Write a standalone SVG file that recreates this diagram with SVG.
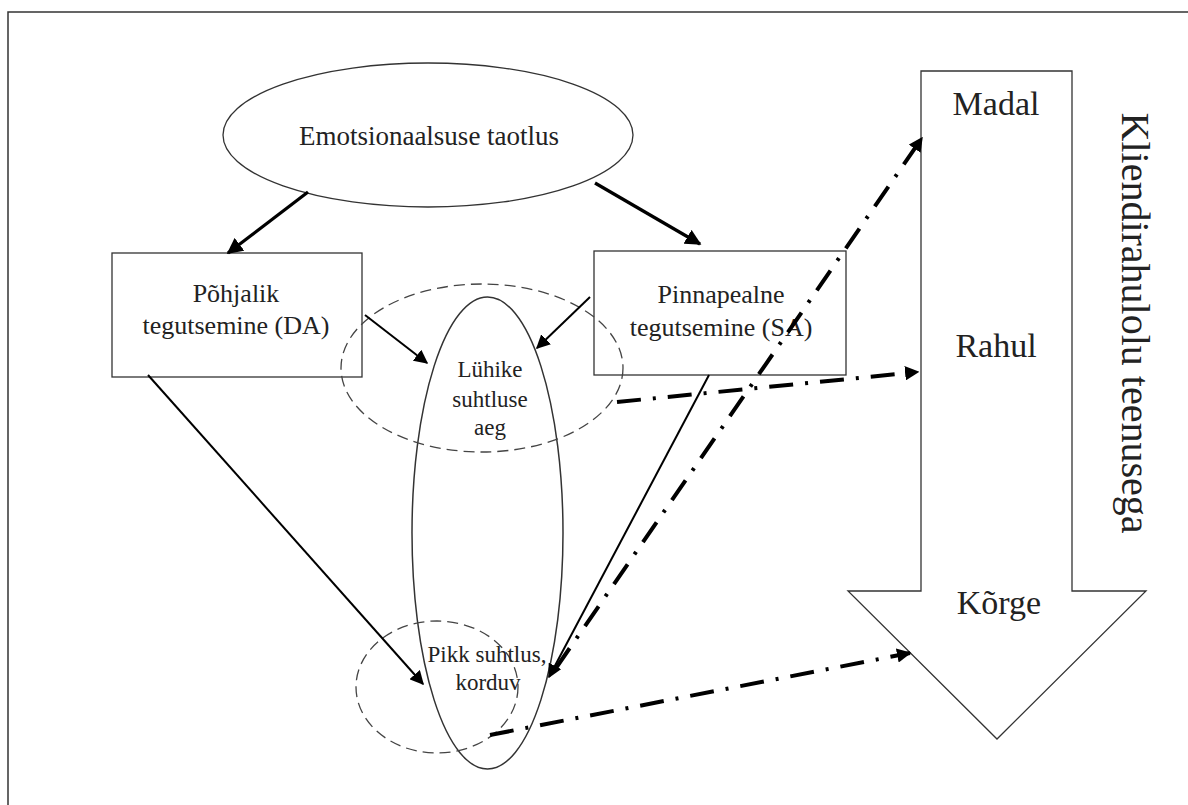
<svg xmlns="http://www.w3.org/2000/svg" width="1188" height="805" viewBox="0 0 1188 805">
<defs>
<style>
text{font-family:"Liberation Serif","Times New Roman",serif;fill:#222;}
.shape{fill:#fff;stroke:#333;stroke-width:1.3;}
.dashed{fill:none;stroke:#444;stroke-width:1.3;stroke-dasharray:11 6;}
.thick{stroke:#000;stroke-width:3.2;fill:none;}
.thin{stroke:#000;stroke-width:2;fill:none;}
.dd{stroke:#000;stroke-width:4;fill:none;stroke-dasharray:24 12 3 12;}
</style>
<marker id="ah" viewBox="0 0 10 10" refX="9" refY="5" markerWidth="5" markerHeight="5" orient="auto" markerUnits="strokeWidth"><path d="M0,0 L10,5 L0,10 z" fill="#000"/></marker>
<marker id="ah2" viewBox="0 0 10 10" refX="9" refY="5" markerWidth="7" markerHeight="7" orient="auto" markerUnits="strokeWidth"><path d="M0,0 L10,5 L0,10 z" fill="#000"/></marker>
<marker id="ahd" viewBox="0 0 10 10" refX="9" refY="5" markerWidth="3.6" markerHeight="3.6" orient="auto" markerUnits="strokeWidth"><path d="M0,0 L10,5 L0,10 z" fill="#000"/></marker>
</defs>
<rect x="0" y="0" width="1188" height="805" fill="#fff"/>
<path d="M8,805 L8,12 L1188,12" fill="none" stroke="#333" stroke-width="1.5"/>

<g id="bigarrow">
<polygon class="shape" points="921,71 1072,71 1072,591 1146,591 997,739 848,591 921,591" stroke="#555"/>
<text x="996" y="115" font-size="34" text-anchor="middle">Madal</text>
<text x="996" y="357" font-size="34" text-anchor="middle">Rahul</text>
<text x="999" y="614" font-size="34" text-anchor="middle">Kõrge</text>
</g>
<g id="axislabel">
<text x="0" y="0" font-size="40" text-anchor="middle" transform="translate(1122,323) rotate(90)">Kliendirahulolu teenusega</text>
</g>

<g id="emotsionaalsus">
<ellipse class="shape" cx="428" cy="135" rx="205" ry="72"/>
<text x="429" y="145" font-size="27" text-anchor="middle">Emotsionaalsuse taotlus</text>
</g>
<g id="DA">
<rect class="shape" x="112" y="253" width="250" height="124"/>
<text x="236" y="302" font-size="26" text-anchor="middle">Põhjalik</text>
<text x="236" y="334" font-size="26" text-anchor="middle">tegutsemine (DA)</text>
</g>
<g id="SA">
<rect class="shape" x="594" y="251" width="252" height="124"/>
<text x="721" y="303" font-size="26" text-anchor="middle">Pinnapealne</text>
<text x="721" y="336" font-size="26" text-anchor="middle">tegutsemine (SA)</text>
</g>
<g id="suhtlus">
<ellipse cx="487.5" cy="533" rx="75.5" ry="236" fill="none" stroke="#333" stroke-width="1.5"/>
</g>
<g id="lyhike">
<ellipse class="dashed" cx="482" cy="368" rx="141" ry="84"/>
<text x="490" y="377" font-size="23" text-anchor="middle">Lühike</text>
<text x="490" y="407" font-size="23" text-anchor="middle">suhtluse</text>
<text x="490" y="435" font-size="23" text-anchor="middle">aeg</text>
</g>
<g id="pikk">
<ellipse class="dashed" cx="437" cy="687" rx="81" ry="66"/>
<text x="487" y="662" font-size="23" text-anchor="middle">Pikk suhtlus,</text>
<text x="488" y="690" font-size="23" text-anchor="middle">korduv</text>
</g>

<g id="connectors">
<line class="thick" x1="308" y1="192" x2="228" y2="253" marker-end="url(#ah)"/>
<line class="thick" x1="595" y1="183" x2="700" y2="244" marker-end="url(#ah)"/>
<line class="thin" x1="365" y1="315" x2="427" y2="363" marker-end="url(#ah2)"/>
<line class="thin" x1="590" y1="297" x2="537" y2="348" marker-end="url(#ah2)"/>
<line class="thin" x1="148" y1="375" x2="423" y2="684" marker-end="url(#ah2)"/>
<line class="thin" x1="709" y1="375" x2="549" y2="677" marker-end="url(#ah2)"/>
<line class="dd" x1="556" y1="668" x2="922" y2="138" marker-end="url(#ahd)"/>
<line class="dd" x1="617" y1="402" x2="918" y2="372" marker-end="url(#ahd)"/>
<line class="dd" x1="490" y1="735" x2="910" y2="653" marker-end="url(#ahd)"/>
</g>
</svg>
